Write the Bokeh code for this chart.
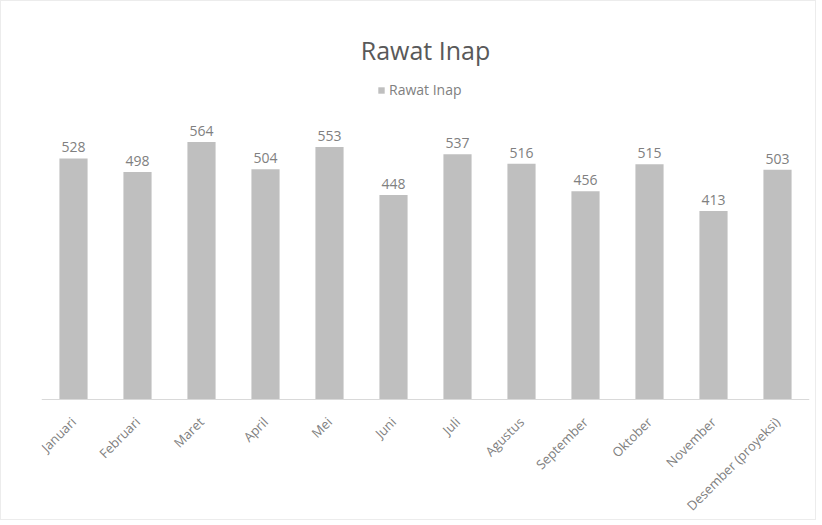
from bokeh.plotting import figure
from bokeh.models import ColumnDataSource, Legend, LegendItem, LabelSet, Label, Span
from bokeh.core.properties import value
from bokeh.embed import file_html
from bokeh.resources import INLINE

months = ["Januari", "Februari", "Maret", "April", "Mei", "Juni", "Juli",
          "Agustus", "September", "Oktober", "November", "Desember (proyeksi)"]
values = [528, 498, 564, 504, 553, 448, 537, 516, 456, 515, 413, 503]
series_name = "Rawat Inap"
chart_title = "Rawat Inap"
axis_max = 600  # value axis maximum of the original chart (axis hidden)

src = ColumnDataSource(dict(x=months, top=values, lbl=[str(v) for v in values],
                            zero=[0] * len(months)))

FONT = "Open Sans"
W, H = 816, 520
BL, BR, BT, BB = 40, 8, 10, 2
FW, FH = W - BL - BR, H - BT - BB
PLOT_H = 274      # pixel height of the value area (0..axis_max)
BASE_Y = 398      # pixel row of the baseline
px_per_unit = PLOT_H / axis_max
y_start = -(H - BB - BASE_Y) / px_per_unit   # room for category labels below the baseline
y_end = (BASE_Y - BT) / px_per_unit          # headroom for title and legend
base_from_bottom = H - BB - BASE_Y

p = figure(x_range=months, y_range=(y_start, y_end), width=W, height=H,
           output_backend="svg", toolbar_location=None,
           min_border_left=BL, min_border_right=BR, min_border_top=BT, min_border_bottom=BB)
p.styles = {"border": "1px solid #ececec"}

r = p.vbar(x="x", top="top", bottom=0, width=0.44, source=src,
           fill_color="#bfbfbf", line_color=None)

p.add_layout(Span(location=0, dimension="width", line_color="#d9d9d9", line_width=1))

labels = LabelSet(x="x", y="top", text="lbl", source=src, text_align="center",
                  text_baseline="bottom", y_offset=6, text_font_size="14px",
                  text_color="#808080", text_font=value(FONT))
p.add_layout(labels)

cat_labels = LabelSet(x="x", y="zero", text="x", source=src, angle=0.785,
                      text_align="right", text_baseline="middle",
                      x_offset=0, y_offset=-20, text_font_size="13px",
                      text_color="#808080", text_font=value(FONT))
p.add_layout(cat_labels)

title = Label(x=FW / 2, y=base_from_bottom + 350, x_units="screen", y_units="screen",
              text=chart_title, text_align="center", text_baseline="middle",
              text_font=FONT, text_font_size="25px", text_color="#595959")
p.add_layout(title)

legend = Legend(items=[LegendItem(label=series_name, renderers=[r])],
                orientation="horizontal", location=(FW / 2 - 48, base_from_bottom + 300),
                label_text_font=FONT, label_text_font_size="14px",
                label_text_color="#808080", glyph_width=8, glyph_height=8,
                border_line_color=None, background_fill_alpha=0,
                padding=2, margin=0, label_standoff=4, label_height=14)
p.add_layout(legend)

p.xaxis.visible = False
p.yaxis.visible = False
p.ygrid.visible = False
p.xgrid.visible = False
p.x_range.range_padding = 0
p.outline_line_color = None
p.border_fill_color = "white"

open("out.html", "w").write(file_html(p, INLINE))
